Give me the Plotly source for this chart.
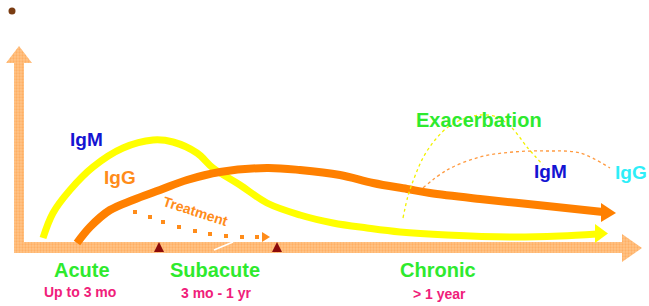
import plotly.graph_objects as go

# ---- data (pixel-space illustration coordinates) ----
igm_x = [43, 53, 70, 93, 123, 153, 173, 197, 213, 240, 267, 300, 333, 367, 400, 447, 513, 560, 597]
igm_y = [238, 213, 190, 167, 148, 140, 142, 153, 168, 185, 203, 215, 223, 228, 232, 235, 237, 236, 234]
igm_head_x = [595, 608, 595, 595]
igm_head_y = [224, 233.5, 243, 224]

igg_x = [77, 90, 110, 133, 160, 187, 220, 267, 300, 340, 373, 407, 430, 480, 547, 603]
igg_y = [243, 227, 210, 200, 190, 180, 172, 168, 170, 175, 183, 189, 193, 199, 206, 212]
igg_head_x = [601, 616, 601, 601]
igg_head_y = [203, 213, 222, 203]

treat_x = [135, 150, 163, 179, 195, 210, 226, 242, 257]
treat_y = [212, 217, 222, 227, 231, 234, 236, 237, 237]
treat_head_x = [262, 270, 262, 262]
treat_head_y = [232, 237, 242, 232]

exa_igm_x = [403, 408, 415, 424, 435, 448, 463, 480, 497, 512, 527, 543]
exa_igm_y = [218, 196, 176, 156, 140, 127, 119, 115, 117, 128, 147, 165]
exa_igg_x = [423, 447, 480, 513, 547, 580, 610]
exa_igg_y = [188, 170, 157, 152, 151, 153, 168]

marker_x = [159, 277]
marker_y = [242, 242]

yaxis_arrow_x = [14, 14, 6, 19, 32, 24, 24, 14]
yaxis_arrow_y = [253, 63, 63, 46, 63, 63, 253, 253]
xaxis_arrow_x = [14, 622, 622, 642, 622, 622, 14, 14]
xaxis_arrow_y = [242, 242, 234, 248, 262, 253, 253, 242]

slash_x = [214, 233]
slash_y = [250, 242]

dot_x = [12]
dot_y = [11]

labels = ["IgM", "IgG", "Treatment", "Exacerbation", "IgM", "IgG",
          "Acute", "Up to 3 mo", "Subacute", "3 mo - 1 yr", "Chronic", "&gt; 1 year"]
label_x = [86, 120, 195, 479, 550, 631, 82, 80, 215, 216, 438, 439]
label_y = [139, 177, 211, 120, 171, 172, 270, 292, 270, 293, 270, 294]
label_size = [19, 19, 14, 20, 19, 19, 20, 14, 20, 14, 20, 14]
label_color = ["#1414D2", "#FF8C1A", "#FF8C1A", "#2EEA2E", "#1414D2", "#2EEEF8",
               "#2EEA2E", "#F0207A", "#2EEA2E", "#F0207A", "#2EEA2E", "#F0207A"]
label_angle = [0, 0, 18, 0, 0, 0, 0, 0, 0, 0, 0, 0]

YELLOW = "#FFFF00"
ORANGE = "#FF8000"
AXIS_BG = "#FFC488"
AXIS_FG = "#FF9A40"

fig = go.Figure()

# axes drawn as arrows
for ax_x, ax_y in [(yaxis_arrow_x, yaxis_arrow_y), (xaxis_arrow_x, xaxis_arrow_y)]:
    fig.add_trace(go.Scatter(
        x=ax_x, y=ax_y, mode="lines", fill="toself",
        line=dict(width=0, color=AXIS_BG),
        fillcolor=AXIS_BG,
        fillpattern=dict(shape=".", bgcolor=AXIS_BG, fgcolor=AXIS_FG, size=3, solidity=0.45),
        hoverinfo="skip", showlegend=False))

# white slash artifact on axis
fig.add_trace(go.Scatter(x=slash_x, y=slash_y, mode="lines",
                         line=dict(color="white", width=1.5), hoverinfo="skip", showlegend=False))

# IgM curve (yellow)
fig.add_trace(go.Scatter(x=igm_x, y=igm_y, mode="lines", line=dict(color=YELLOW, width=7, shape="spline"),
                         hoverinfo="skip", showlegend=False))
fig.add_trace(go.Scatter(x=igm_head_x, y=igm_head_y, mode="lines", fill="toself", fillcolor=YELLOW,
                         line=dict(width=0, color=YELLOW), hoverinfo="skip", showlegend=False))

# IgG curve (orange)
fig.add_trace(go.Scatter(x=igg_x, y=igg_y, mode="lines", line=dict(color=ORANGE, width=8, shape="spline"),
                         hoverinfo="skip", showlegend=False))
fig.add_trace(go.Scatter(x=igg_head_x, y=igg_head_y, mode="lines", fill="toself", fillcolor=ORANGE,
                         line=dict(width=0, color=ORANGE), hoverinfo="skip", showlegend=False))

# treatment dotted arrow
fig.add_trace(go.Scatter(x=treat_x, y=treat_y, mode="markers",
                         marker=dict(symbol="square", size=4, color="#FF8C1A"),
                         hoverinfo="skip", showlegend=False))
fig.add_trace(go.Scatter(x=treat_head_x, y=treat_head_y, mode="lines", fill="toself", fillcolor="#FF8C1A",
                         line=dict(width=0, color="#FF8C1A"), hoverinfo="skip", showlegend=False))

# exacerbation dotted arcs
fig.add_trace(go.Scatter(x=exa_igm_x, y=exa_igm_y, mode="lines",
                         line=dict(color="#F2F200", width=1.3, dash="dot", shape="spline"),
                         hoverinfo="skip", showlegend=False))
fig.add_trace(go.Scatter(x=exa_igg_x, y=exa_igg_y, mode="lines",
                         line=dict(color="#FF9A40", width=1.3, dash="dot", shape="spline"),
                         hoverinfo="skip", showlegend=False))

# small dark red arrows on the time axis
fig.add_trace(go.Scatter(x=marker_x, y=marker_y, mode="markers",
                         marker=dict(symbol="arrow-up", size=10, color="#8B0A0A"),
                         hoverinfo="skip", showlegend=False))

# brown dot
fig.add_trace(go.Scatter(x=dot_x, y=dot_y, mode="markers",
                         marker=dict(symbol="circle", size=7, color="#7A3C12"),
                         hoverinfo="skip", showlegend=False))

for t, lx, ly, s, c, a in zip(labels, label_x, label_y, label_size, label_color, label_angle):
    fig.add_annotation(x=lx, y=ly, text="<b>" + t + "</b>", showarrow=False, textangle=a,
                       font=dict(family="Liberation Sans, Arial, sans-serif", size=s, color=c),
                       xanchor="center", yanchor="middle")

fig.update_layout(
    width=649, height=306, autosize=False,
    margin=dict(l=0, r=0, t=0, b=0),
    paper_bgcolor="white", plot_bgcolor="white",
    xaxis=dict(range=[0, 649], visible=False, fixedrange=True),
    yaxis=dict(range=[306, 0], visible=False, fixedrange=True),
    showlegend=False,
)

fig.write_html("out.html", config={"displayModeBar": False},
               post_script="document.body.style.margin='0px';document.body.style.overflow='hidden';")
